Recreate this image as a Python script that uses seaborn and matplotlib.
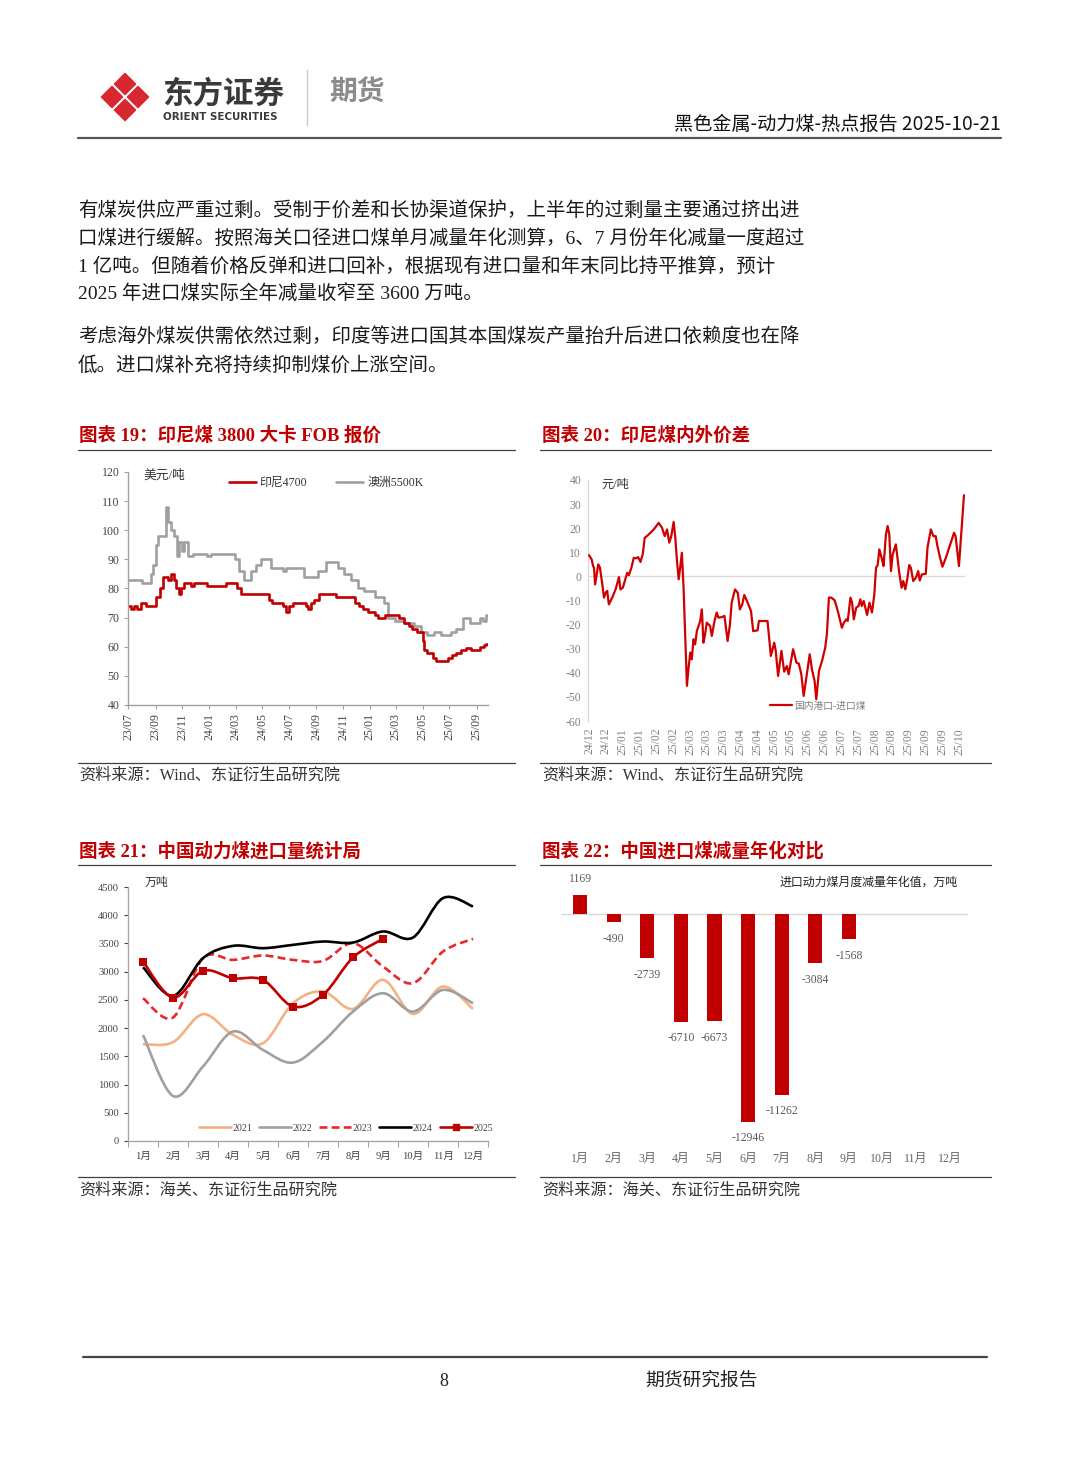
import numpy as np
import pandas as pd
import seaborn as sns
import matplotlib.pyplot as plt
import matplotlib.dates as mdates
from matplotlib.path import Path
from matplotlib.patches import PathPatch, Polygon
from matplotlib.lines import Line2D

W, H = 1080, 1466
RED = '#C00000'

# ---- chart 19: 印尼煤 FOB 报价 (周度, 美元/吨)
aus_dates = ['2023-07-01', '2023-07-29', '2023-08-02', '2023-08-17', '2023-08-21', '2023-08-27',
             '2023-09-01', '2023-09-06', '2023-09-15', '2023-09-25', '2023-09-30', '2023-10-06',
             '2023-10-12', '2023-10-19', '2023-10-25', '2023-10-30', '2023-11-04', '2023-11-13',
             '2023-11-25', '2023-12-25', '2023-12-28', '2024-01-05', '2024-02-20', '2024-02-28',
             '2024-03-09', '2024-03-20', '2024-03-28', '2024-04-05', '2024-04-16', '2024-04-28',
             '2024-05-13', '2024-05-20', '2024-06-13', '2024-06-16', '2024-06-24', '2024-07-28',
             '2024-08-04', '2024-08-24', '2024-09-05', '2024-09-23', '2024-10-08', '2024-10-20',
             '2024-11-04', '2024-11-19', '2024-12-04', '2024-12-19', '2025-01-12', '2025-02-01',
             '2025-02-12', '2025-02-27', '2025-03-20', '2025-04-12', '2025-04-27', '2025-05-12',
             '2025-05-27', '2025-06-12', '2025-07-04', '2025-07-16', '2025-08-01', '2025-08-16',
             '2025-08-27', '2025-09-08', '2025-09-15', '2025-09-23', '2025-09-25']
aus_vals = [83, 83, 82, 82, 85, 88, 95, 98, 98, 108, 103, 100, 98, 91, 96, 93, 96, 91, 92, 92,
            91, 92, 92, 90, 86, 83, 83, 86, 88, 90, 90, 87, 87, 86, 87, 87, 84, 84, 86, 89,
            89, 87, 85, 83, 80, 79, 77, 75, 70, 69, 68, 67, 65, 64, 65, 64, 65, 66, 70, 68,
            68, 70, 69, 71, 71]

idn_dates = ['2023-07-01', '2023-07-06', '2023-07-14', '2023-07-21', '2023-07-29', '2023-08-10',
             '2023-09-02', '2023-09-12', '2023-09-17', '2023-09-29', '2023-10-06', '2023-10-12',
             '2023-10-17', '2023-10-25', '2023-10-29', '2023-11-05', '2023-11-21', '2023-11-28',
             '2023-12-28', '2024-02-09', '2024-03-05', '2024-03-13', '2024-05-16', '2024-05-24',
             '2024-06-16', '2024-06-24', '2024-07-01', '2024-07-09', '2024-08-08', '2024-08-12',
             '2024-08-20', '2024-08-27', '2024-09-08', '2024-10-16', '2024-11-27', '2024-12-08',
             '2024-12-16', '2024-12-27', '2025-01-12', '2025-01-19', '2025-02-04', '2025-03-08',
             '2025-03-20', '2025-04-01', '2025-04-08', '2025-04-19', '2025-05-01', '2025-05-04',
             '2025-05-12', '2025-05-25', '2025-05-31', '2025-06-27', '2025-07-08', '2025-07-16',
             '2025-07-27', '2025-08-08', '2025-08-19', '2025-09-08', '2025-09-18', '2025-09-23',
             '2025-09-25']
idn_vals = [74, 73, 74, 73, 75, 74, 77, 80, 84, 83, 85, 83, 80, 78, 80, 82, 81, 82, 81, 82,
            80, 78, 76, 75, 74, 72, 74, 75, 74, 73, 75, 76, 78, 77, 75, 74, 73, 72, 71, 70,
            71, 70, 68, 67, 66, 65, 62, 59, 58, 56, 55, 56, 57, 58, 59, 59.5, 59, 60, 60.5, 61,
            61]

# ---- chart 20: 国内港口-进口煤 价差 (交易日序号, 元/吨)
spread = [(0, 8.8), (1.6, 7), (2.4, 4.3), (3, 3.6), (3.6, -3.3), (4.3, -0.5), (5.5, 5), (6.5, 3.6),
          (7.9, -3.3), (8.9, -8.8), (9.9, -6.8), (10.8, -6), (11.8, -11.6), (13.8, -8.8),
          (15.8, -5.4), (17.8, -0.3), (18.7, -5.4), (20.1, -4.7), (21.3, -1.9), (22.7, 1.5),
          (23.7, 0.5), (25.2, 3.6), (26.6, 7.7), (28, 7.5), (29.2, 8), (30.6, 6), (32, 9.4),
          (33.1, 16), (35.5, 17.4), (38.5, 19.5), (41.4, 22.2), (43.4, 20.2), (45, 16.7),
          (46.4, 19.5), (47.7, 14), (48.9, 16.7), (50.3, 22.6), (51.3, 16), (52.3, 6.4),
          (53.3, -1.2), (54.2, 3.6), (55.2, 9.8), (56.2, -4.7), (57.2, -25.4), (58.2, -45.4),
          (59.2, -37.8), (60.2, -31.6), (61.1, -34.4), (62.1, -26.1), (63.1, -28.2), (64.1, -22.7),
          (66.1, -18.5), (67.1, -13.7), (68, -27.5), (69, -24), (70, -19.2), (72, -20.6),
          (73, -24.7), (74.6, -18.5), (75.9, -15), (76.9, -17.1), (78.9, -16.9), (80.5, -16.4),
          (82.4, -26.8), (83.8, -19.9), (84.8, -10.9), (86.8, -5.4), (88.4, -6.8), (89.7, -13.7),
          (91.1, -11.6), (92.3, -7.7), (94.3, -10.9), (96.3, -14.4), (97.6, -22.7), (100.2, -22.4),
          (101, -18.5), (106.1, -18.5), (108.1, -33), (110.1, -27.5), (111, -30.9), (112.4, -41.3),
          (114.4, -30.9), (116, -39.5), (117.6, -37.2), (118.7, -40.6), (121.3, -30.2),
          (123.3, -35.8), (124.7, -36.2), (126.2, -40.6), (127.6, -49.6), (129.2, -42),
          (131.2, -32.3), (132.5, -38.5), (134.1, -43.4), (135.1, -51), (136.7, -39.2),
          (138.5, -35.1), (140.4, -29.6), (141.4, -24), (142.6, -8.8), (144, -8.8), (146, -9.9),
          (147.9, -14.4), (150.3, -21.3), (151.5, -19.2), (152.9, -17.8), (153.8, -18.5),
          (155.4, -8.8), (156.4, -10.9), (157.4, -17.8), (158.8, -13), (160.2, -12.3),
          (161.3, -9.5), (162.1, -12.3), (163.3, -10.2), (165.3, -16), (166.7, -10.9),
          (168.2, -15), (169.6, -7.5), (170.6, 3.6), (171.6, 4.7), (172.6, 11.2), (174.2, 7),
          (175.1, 4.3), (176.5, 17.4), (177.5, 20.9), (178.5, 17.4), (179.5, 2.2), (180.5, 9.1),
          (182.4, 13.3), (184.4, 1.5), (185.8, -4.7), (186.8, -1.9), (188, -5.4), (189.3, -0.6),
          (190.3, 4.7), (191.3, 3.6), (192.7, -1.9), (194.3, -0.6), (195.7, 2.2), (196.6, -1.7),
          (197.8, 0.8), (200.2, 1.1), (201.2, 11.9), (203.2, 19.5), (204.7, 16.7), (206.1, 16.7),
          (207.1, 12.6), (208.7, 7.7), (210.1, 4), (212.1, 7.7), (217, 18.1), (217.9, 16.7),
          (219.9, 4.3), (222.9, 33.7)]
spread_ticks = ['24/12', '24/12', '25/01', '25/01', '25/02', '25/02', '25/03', '25/03', '25/03',
                '25/04', '25/04', '25/05', '25/05', '25/06', '25/06', '25/07', '25/07', '25/08',
                '25/08', '25/09', '25/09', '25/09', '25/10']

# ---- chart 21: 中国动力煤进口量 (万吨)
months = ['1月', '2月', '3月', '4月', '5月', '6月', '7月', '8月', '9月', '10月', '11月', '12月']
imp_2021 = [1714, 1750, 2246, 1880, 1732, 2441, 2648, 2340, 2855, 2252, 2736, 2340]
imp_2022 = [1880, 798, 1320, 1939, 1613, 1389, 1761, 2293, 2618, 2293, 2677, 2441]
imp_2023 = [2530, 2187, 3239, 3209, 3286, 3209, 3190, 3505, 3091, 2796, 3357, 3582]
imp_2024 = [3079, 2571, 3239, 3457, 3416, 3475, 3534, 3516, 3712, 3605, 4303, 4155]
imp_2025 = [3180, 2541, 3014, 2884, 2855, 2382, 2589, 3251, 3582]

# ---- chart 22: 进口煤减量年化 (万吨)
cut_vals = [1169, -490, -2739, -6710, -6673, -12946, -11262, -3084, -1568]

sns.set_theme(style='ticks')
plt.rcParams['font.family'] = ['Liberation Serif', 'Noto Sans CJK SC', 'DejaVu Sans']
plt.rcParams['axes.unicode_minus'] = False

fig = plt.figure(figsize=(W / 100, H / 100), dpi=100)


def ftext(x, y, s, **kw):
    fig.text(x / W, 1 - y / H, s, **kw)


def hline(x0, x1, y, lw=0.9, color='#404040'):
    fig.add_artist(Line2D([x0 / W, x1 / W], [1 - y / H] * 2, lw=lw, color=color,
                          transform=fig.transFigure))


def axes_px(l, t, r, b):
    return fig.add_axes([l / W, 1 - b / H, (r - l) / W, (b - t) / H])


def smooth_path(xs, ys):
    # excel style smoothed line through the points (catmull-rom as bezier)
    pts = np.column_stack([xs, ys]).astype(float)
    n = len(pts)
    verts, codes = [pts[0]], [Path.MOVETO]
    for i in range(n - 1):
        p0, p1, p2, p3 = pts[max(i - 1, 0)], pts[i], pts[i + 1], pts[min(i + 2, n - 1)]
        verts += [p1 + (p2 - p0) / 6, p2 - (p3 - p1) / 6, p2]
        codes += [Path.CURVE4] * 3
    return Path(verts, codes)


# ---------------- header
logo = fig.add_axes([95 / W, 1 - 127 / H, 60 / W, 60 / H])
logo.set_xlim(0, 60)
logo.set_ylim(60, 0)
logo.axis('off')
for dx, dy in [(0, -13), (13, 0), (0, 13), (-13, 0)]:
    cx, cy, r = 30 + dx, 30 + dy, 10.6
    logo.add_patch(Polygon([(cx, cy - r), (cx + r, cy), (cx, cy + r), (cx - r, cy)], closed=True,
                           fc='#D7282F', ec='#D7282F', lw=1, joinstyle='round'))

ftext(162, 94, '东方证券', family='Noto Sans CJK SC', weight='bold', fontsize=22,
      color='#3a3a3a', va='center')
ftext(163, 117, 'ORIENT SECURITIES', family='DejaVu Sans', weight='bold', fontsize=7.4,
      color='#3a3a3a', va='center')
fig.add_artist(Line2D([307 / W] * 2, [1 - 70 / H, 1 - 125 / H], lw=1, color='#cfc7b8',
                      transform=fig.transFigure))
ftext(329, 93, '期货', family='Noto Sans CJK SC', weight='bold', fontsize=20,
      color='#8c8c8c', va='center')
ftext(1001, 124, '黑色金属-动力煤-热点报告 2025-10-21', family='Noto Sans CJK SC',
      fontsize=13.8, color='#111111', ha='right', va='center')
hline(78, 1001, 138, lw=1.6, color='#555555')

# ---------------- body text
para = [
    (210, '有煤炭供应严重过剩。受制于价差和长协渠道保护，上半年的过剩量主要通过挤出进'),
    (238, '口煤进行缓解。按照海关口径进口煤单月减量年化测算，6、7 月份年化减量一度超过'),
    (266, '1 亿吨。但随着价格反弹和进口回补，根据现有进口量和年末同比持平推算，预计'),
    (294, '2025 年进口煤实际全年减量收窄至 3600 万吨。'),
    (337, '考虑海外煤炭供需依然过剩，印度等进口国其本国煤炭产量抬升后进口依赖度也在降'),
    (365, '低。进口煤补充将持续抑制煤价上涨空间。'),
]
for y, s in para:
    ftext(78, y, s, fontsize=14, color='#1a1a1a', va='center')

# ---------------- frame titles and sources
titles = [(79, 436, '图表 19：印尼煤 3800 大卡 FOB 报价'), (542, 436, '图表 20：印尼煤内外价差'),
          (79, 851, '图表 21：中国动力煤进口量统计局'), (542, 851, '图表 22：中国进口煤减量年化对比')]
for x, y, s in titles:
    ftext(x, y, s, fontsize=13.3, weight='bold', color=RED, va='center')
for x0, x1 in [(78, 515), (540, 991)]:
    hline(x0, x1, 450)
    hline(x0, x1, 763)
    hline(x0, x1, 865)
    hline(x0, x1, 1177)
for x in (79, 542):
    ftext(x, 776, '资料来源：Wind、东证衍生品研究院', fontsize=11.6, color='#333333', va='center')
    ftext(x, 1191, '资料来源：海关、东证衍生品研究院', fontsize=11.6, color='#333333', va='center')

# ---------------- chart 19
ax1 = axes_px(128, 472, 488, 705)
sns.lineplot(x=pd.to_datetime(aus_dates), y=aus_vals, ax=ax1, color='#A0A0A0', lw=1.9,
             drawstyle='steps-post', label='澳洲5500K')
sns.lineplot(x=pd.to_datetime(idn_dates), y=idn_vals, ax=ax1, color=RED, lw=1.9,
             drawstyle='steps-post', label='印尼4700')
ax1.set_xlim(pd.Timestamp('2023-06-30'), pd.Timestamp('2025-09-27'))
ax1.set_ylim(40, 120)
ax1.set_yticks(range(40, 121, 10))
ax1.xaxis.set_major_locator(mdates.MonthLocator(bymonth=[1, 3, 5, 7, 9, 11]))
ax1.xaxis.set_major_formatter(mdates.DateFormatter('%y/%m'))
ax1.tick_params(axis='x', rotation=90)
ax1.tick_params(labelsize=8.6, colors='#444444', length=3, width=0.8, color='#A0A0A0', pad=3)
for s in ('top', 'right'):
    ax1.spines[s].set_visible(False)
for s in ('left', 'bottom'):
    ax1.spines[s].set_color('#A0A0A0')
    ax1.spines[s].set_linewidth(1)
ax1.set_xlabel('')
ax1.set_ylabel('')
h, l = ax1.get_legend_handles_labels()
ax1.legend(h[::-1], l[::-1], loc='center', bbox_to_anchor=(0.55, 0.953), ncol=2, frameon=False,
           fontsize=8.6, handlelength=2.3, handletextpad=0.3, columnspacing=2.4,
           labelcolor='#333333')
ax1.text(0.042, 0.983, '美元/吨', transform=ax1.transAxes, fontsize=9.2, color='#333333',
         va='center')

# ---------------- chart 20
ax2 = axes_px(588, 480, 965, 721)
sp = pd.DataFrame(spread, columns=['day', 'val'])
ax2.axhline(0, color='#DADADA', lw=1, zorder=1)
sns.lineplot(data=sp, x='day', y='val', ax=ax2, color='#D00000', lw=1.6, zorder=3,
             label='国内港口-进口煤')
ax2.set_xlim(-0.6, 223.5)
ax2.set_ylim(-60, 40)
ax2.set_yticks(range(-60, 41, 10))
ax2.set_xticks(range(0, 10 * len(spread_ticks), 10))
ax2.set_xticklabels(spread_ticks, rotation=90)
ax2.tick_params(labelsize=8.4, colors='#808080', length=0, pad=5)
for s in ('top', 'right', 'bottom'):
    ax2.spines[s].set_visible(False)
ax2.spines['left'].set_color('#D9D9D9')
ax2.spines['left'].set_linewidth(1)
ax2.set_xlabel('')
ax2.set_ylabel('')
ax2.legend(loc='center', bbox_to_anchor=(0.61, 0.062), frameon=False, fontsize=7,
           handlelength=2.3, handletextpad=0.2, labelcolor='#7f7f7f')
ax2.text(0.035, 0.98, '元/吨', transform=ax2.transAxes, fontsize=8.8, color='#333333',
         va='center')

# ---------------- chart 21
ax3 = axes_px(128, 887, 488, 1141)
idx = np.arange(len(months))
series = [(imp_2021, '2021', '#F4B183', '-'), (imp_2022, '2022', '#A0A0A0', '-'),
          (imp_2023, '2023', '#E8282B', '--'), (imp_2024, '2024', '#000000', '-'),
          (imp_2025, '2025', RED, '-')]
handles = []
for vals, name, c, ls in series:
    style = (0, (3, 1.6)) if ls == '--' else ls
    ax3.add_patch(PathPatch(smooth_path(idx[:len(vals)], vals), fill=False, edgecolor=c,
                            lw=1.9, linestyle=style, zorder=3))
    handles.append(Line2D([], [], color=c, lw=1.9, linestyle=style,
                          marker='s' if name == '2025' else None, markersize=5))
sns.scatterplot(x=idx[:len(imp_2025)], y=imp_2025, marker='s', color=RED, s=30, linewidth=0,
                ax=ax3, zorder=4)
ax3.set_xlim(-0.5, 11.5)
ax3.set_ylim(0, 4500)
ax3.set_yticks(range(0, 4501, 500))
ax3.set_xticks(idx)
ax3.set_xticklabels(months)
ax3.set_xticks(np.arange(-0.5, 11.6, 1), minor=True)
ax3.tick_params(axis='x', which='major', length=0, pad=8)
ax3.tick_params(axis='x', which='minor', length=4, width=0.8, color='#A6A6A6')
ax3.tick_params(axis='y', length=3, width=0.8, color='#A6A6A6')
ax3.tick_params(labelsize=7.6, colors='#444444')
for s in ('top', 'right'):
    ax3.spines[s].set_visible(False)
for s in ('left', 'bottom'):
    ax3.spines[s].set_color('#A6A6A6')
    ax3.spines[s].set_linewidth(1)
ax3.legend(handles, [s[1] for s in series], loc='center', bbox_to_anchor=(0.605, 0.05), ncol=5,
           frameon=False, fontsize=7.2, handlelength=3.2, handletextpad=0.15, columnspacing=0.7,
           labelcolor='#444444')
ax3.text(0.045, 1.015, '万吨', transform=ax3.transAxes, fontsize=8.6, color='#333333',
         va='center')

# ---------------- chart 22
ax4 = axes_px(561, 872, 968, 1145)
cut = pd.DataFrame({'month': months[:len(cut_vals)], 'val': cut_vals})
sns.barplot(data=cut, x='month', y='val', order=months, color=RED, width=0.42, linewidth=0,
            saturation=1, errorbar=None, ax=ax4)
ax4.axhline(0, color='#D9D9D9', lw=1, zorder=0)
for i, v in enumerate(cut_vals):
    ax4.annotate(f'{v}', (i, v), xytext=(0, 12 if v > 0 else -12), textcoords='offset points',
                 ha='center', va='center', fontsize=8.4, color='#595959')
ax4.set_xlim(-0.57, 11.55)
ax4.set_ylim(-14400, 2620)
ax4.set_yticks([])
ax4.tick_params(axis='x', length=0, pad=6, labelsize=8.6, colors='#666666')
for s in ax4.spines.values():
    s.set_visible(False)
ax4.set_xlabel('')
ax4.set_ylabel('')
ax4.text(0.975, 0.96, '进口动力煤月度减量年化值，万吨', transform=ax4.transAxes, fontsize=8.6,
         color='#222222', ha='right', va='center')

# ---------------- footer
hline(83, 987, 1357, lw=1.6, color='#444444')
ftext(444, 1381, '8', fontsize=13, color='#222222', ha='center', va='center')
ftext(645, 1381, '期货研究报告', fontsize=13.5, color='#222222', va='center')

fig.savefig('out.png', dpi=100, facecolor='white')
